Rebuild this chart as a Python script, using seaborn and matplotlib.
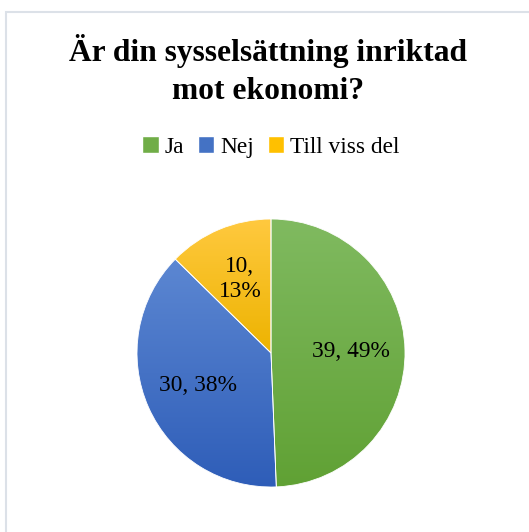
import numpy as np
import matplotlib
matplotlib.use("Agg")
import matplotlib.pyplot as plt
import seaborn as sns
from matplotlib.colors import LinearSegmentedColormap
from matplotlib.patches import Rectangle

categories = ["Ja", "Nej", "Till viss del"]
values = [39, 30, 10]
title = "Är din sysselsättning inriktad\nmot ekonomi?"
top_colors = ["#80BA60", "#5C87D2", "#FFC93F"]
bottom_colors = ["#60A134", "#2E5DB8", "#EDB300"]
base_colors = ["#70AD47", "#4472C4", "#FFC000"]

sns.set_theme(style="white")
plt.rcParams["font.family"] = ["Liberation Serif", "DejaVu Serif"]
plt.rcParams["text.color"] = "black"

W, H = 529, 532
fig = plt.figure(figsize=(W / 100, H / 100), dpi=100)
fig.patch.set_facecolor("white")

# border (left/top visible)
fig.patches.append(Rectangle((5.5 / W, -0.05), 1.2, 1.05 - 11.5 / H,
                             transform=fig.transFigure, fill=False,
                             edgecolor="#DCE1E8", linewidth=1.5))

cx, cy, r = 271, 353, 134
ax = fig.add_axes([(cx - r) / W, (H - cy - r) / H, 2 * r / W, 2 * r / H])

total = sum(values)
label_strs = []
for c, v in zip(categories, values):
    p = round(100 * v / total)
    if v == min(values):
        label_strs.append(f"{v},\n{p}%")
    else:
        label_strs.append(f"{v}, {p}%")

wedges, texts = ax.pie(values, labels=label_strs, colors=base_colors,
                       startangle=90, counterclock=False, labeldistance=0.6,
                       wedgeprops=dict(edgecolor="white", linewidth=0.6),
                       textprops=dict(fontsize=16.8, color="black"))
for t in texts:
    t.set_ha("center")
    t.set_va("center")
    t.set_linespacing(1.25)
    t.set_zorder(10)

# vertical gradient fill per wedge
for w, tc, bc in zip(wedges, top_colors, bottom_colors):
    verts = w.get_path().vertices
    tr = w.get_patch_transform()
    pts = tr.transform(verts)
    ymin, ymax = pts[:, 1].min(), pts[:, 1].max()
    cmap = LinearSegmentedColormap.from_list("g", [bc, tc])
    grad = np.linspace(0, 1, 256).reshape(-1, 1)
    im = ax.imshow(grad, cmap=cmap, origin="lower", aspect="auto",
                   extent=(-1.05, 1.05, ymin, ymax), zorder=1)
    im.set_clip_path(w)
    w.set_zorder(2)
    w.set_facecolor("none")

ax.set_xlim(-1, 1)
ax.set_ylim(-1, 1)
ax.set_aspect("equal")
ax.axis("off")

fig.text(268 / W, 1 - 70 / H, title, ha="center", va="center",
         fontsize=22.7, fontweight="bold", linespacing=1.38, color="black")

handles = [Rectangle((0, 0), 1, 1, facecolor=c) for c in base_colors]
fig.legend(handles, categories, loc="center", bbox_to_anchor=(271 / W, 1 - 147 / H),
           ncol=3, frameon=False, fontsize=16.8, handlelength=0.7,
           handleheight=0.7, handletextpad=0.25, columnspacing=0.6,
           labelcolor="black")

fig.savefig("out.png", dpi=100)
